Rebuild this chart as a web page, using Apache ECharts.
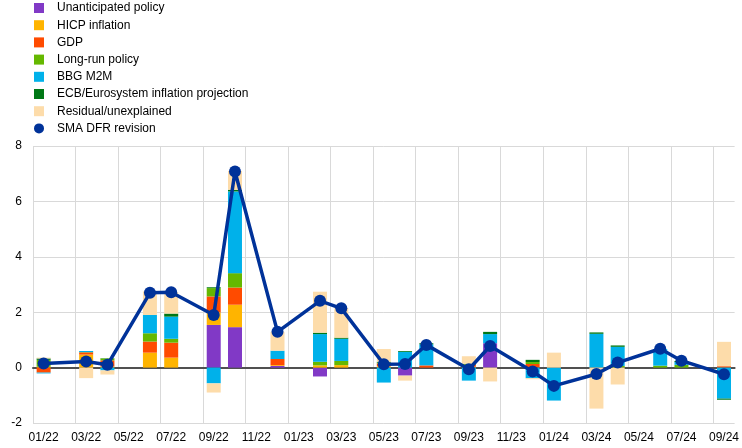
<!DOCTYPE html>
<html>
<head>
<meta charset="utf-8">
<script src="https://cdn.jsdelivr.net/npm/echarts@6/dist/echarts.min.js"></script>
<style>
html,body{margin:0;padding:0;background:#fff;}
#chart{width:742px;height:448px;}
</style>
</head>
<body>
<div id="chart"></div>
<script>
const months = ['01/22','02/22','03/22','04/22','05/22','06/22','07/22','08/22','09/22','10/22','11/22','12/22',
  '01/23','02/23','03/23','04/23','05/23','06/23','07/23','08/23','09/23','10/23','11/23','12/23',
  '01/24','02/24','03/24','04/24','05/24','06/24','07/24','08/24','09/24'];
const meetings = ['01/22','03/22','04/22','06/22','07/22','09/22','10/22','12/22','02/23','03/23','05/23','06/23',
  '07/23','09/23','10/23','12/23','01/24','03/24','04/24','06/24','07/24','09/24'];

const unanticipated = [0,0,0,0,0,1.54,1.46,0.06,-0.32,0,0,-0.29,0,0,0.88,0,0,0,0,0,0,0];
const hicp          = [0.03,0.47,0.04,0.54,0.36,0.45,0.81,0.03,0.08,0.09,0.05,0,0,0.03,0,0,0,0,0,0,0,0];
const gdp           = [-0.18,0.08,0.22,0.40,0.54,0.58,0.62,0.22,0,0,0.10,0,0.08,0.07,0,0.13,0,0,0,0,0,0.05];
const longRun       = [0.25,0.01,0.07,0.30,0.14,0.30,0.52,0,0.13,0.15,0.03,0,0,0.04,0,0.07,0,0,0.06,0.07,0.10,0];
const bbg           = [-0.03,0.04,-0.10,0.66,0.80,-0.57,2.95,0.30,1.00,0.80,-0.54,0.57,0.76,-0.47,0.33,-0.38,-1.19,1.22,0.69,0.60,0.10,-1.12];
const ecbProj       = [0.05,0,0.01,0,0.11,0.03,0.06,0,0.05,0.04,0.03,0.03,0.04,0,0.08,0.08,0,0.05,0.05,0,0.04,-0.04];
const residual      = [0.03,-0.38,-0.15,0.85,0.77,-0.33,0.68,0.68,1.48,1.07,0.46,-0.18,0,0.27,-0.50,-0.04,0.54,-1.48,-0.61,0,0,0.88];
const smaRevision   = [0.15,0.22,0.10,2.70,2.72,1.90,7.08,1.29,2.41,2.14,0.12,0.13,0.82,-0.06,0.78,-0.14,-0.66,-0.23,0.18,0.68,0.25,-0.24];

const yTicks = [-2,0,2,4,6,8];

function toMonthly(vals){
  return months.map(m => {
    const i = meetings.indexOf(m);
    return i < 0 ? null : vals[i];
  });
}

const barDefs = [
  ['Unanticipated policy', unanticipated, '#8139c6'],
  ['HICP inflation', hicp, '#ffb400'],
  ['GDP', gdp, '#ff4b00'],
  ['Long-run policy', longRun, '#65b800'],
  ['BBG M2M', bbg, '#00b1ea'],
  ['ECB/Eurosystem inflation projection', ecbProj, '#007816'],
  ['Residual/unexplained', residual, '#fddcaa']
];

const font = 'Arial, "Liberation Sans", sans-serif';

const series = barDefs.map(d => ({
  name: d[0], type: 'bar', stack: 'total', stackStrategy: 'samesign',
  barWidth: 14, data: toMonthly(d[1]), itemStyle: {color: d[2]}, z: 2
}));
series.push({
  name: 'SMA DFR revision', type: 'line', data: toMonthly(smaRevision), connectNulls: true,
  symbol: 'circle', symbolSize: 12, lineStyle: {color: '#003299', width: 3.5},
  itemStyle: {color: '#003299'}, z: 5
});

const legendData = barDefs.map(d => ({name: d[0], icon: 'rect'}));
legendData.push({name: 'SMA DFR revision', icon: 'circle'});

const chart = echarts.init(document.getElementById('chart'), null, {renderer: 'canvas'});
chart.setOption({
  animation: false,
  backgroundColor: '#fff',
  legend: {
    orient: 'vertical', left: 34, top: 2, padding: 0, itemWidth: 10, itemHeight: 10, itemGap: 5.2,
    data: legendData,
    textStyle: {fontFamily: font, fontSize: 12, color: '#000', padding: [0,0,0,8], lineHeight: 11}
  },
  grid: {left: 33, right: 7, top: 146, bottom: 25, containLabel: false},
  xAxis: {
    type: 'category', data: months, boundaryGap: true,
    axisLine: {onZero: true, lineStyle: {color: '#505050', width: 2}},
    axisTick: {show: false},
    axisLabel: {interval: 1, fontFamily: font, fontSize: 12, color: '#000', margin: 9},
    splitLine: {show: true, interval: 1, showMaxLine: false, lineStyle: {color: '#d9d9d9', width: 1}}
  },
  yAxis: {
    type: 'value', min: yTicks[0], max: yTicks[yTicks.length-1], interval: 2,
    axisLine: {show: false}, axisTick: {show: false},
    axisLabel: {fontFamily: font, fontSize: 12, color: '#000', margin: 11},
    splitLine: {lineStyle: {color: '#d9d9d9', width: 1}}
  },
  series: series
});
</script>
</body>
</html>
